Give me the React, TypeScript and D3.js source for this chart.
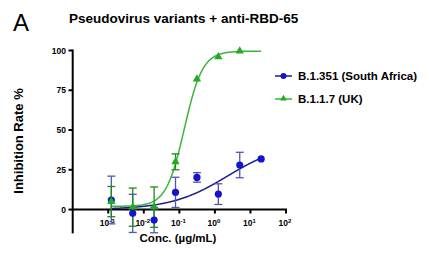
import React from "react";
import * as d3 from "d3";

const conc = [0.00122, 0.00488, 0.0195, 0.078, 0.3125, 1.25, 5, 20];
const b1351Mean = [6, -2.4, -6.6, 10.8, 20.2, 9.7, 28, 31.8];
const b1351Err = [15, 12, 8, 9.5, 3, 6.5, 8, 0];
const b117Conc = [0.00122, 0.00488, 0.0195, 0.078, 0.3125, 1.25, 5];
const b117Mean = [5, 1.5, 1.5, 30, 82, 96, 99.7];
const b117Err = [9.5, 12, 12.7, 5, 0, 0, 0];
const b1351Fit = { bottom: 0, top: 42, logEC50: 0.35, hill: 0.55 };
const b117Fit = { bottom: 2, top: 99.6, logEC50: -0.86, hill: 1.7 };
const yTicks = [0, 25, 50, 75, 100];
const xTickExps = [-3, -2, -1, 0, 1, 2];
const seriesNames = ["B.1.351 (South Africa)", "B.1.1.7 (UK)"];

const BLUE = "#1414cc";
const BLUE_LINE = "#1c1c8c";
const BLUE_ERR = "#5454b0";
const GREEN = "#22aa22";
const GREEN_LINE = "#3cb43c";
const GREEN_ERR = "#1c8c1c";

const fourPL = (p: any, lx: number) =>
  p.bottom + (p.top - p.bottom) / (1 + Math.pow(10, (p.logEC50 - lx) * p.hill));

export default function App() {
  const W = 429, H = 259;
  const x = d3.scaleLog().domain([1e-4, 1e2]).range([72.7, 286]);
  const y = d3.scaleLinear().domain([-15, 100]).range([233.4, 50.5]);
  const font = "Liberation Sans, Arial, sans-serif";

  const curve = (p: any, c0: number, c1: number) => {
    const pts: [number, number][] = d3.range(0, 201).map((i) => {
      const lx = Math.log10(c0) + (Math.log10(c1) - Math.log10(c0)) * (i / 200);
      return [x(Math.pow(10, lx)), y(fourPL(p, lx))];
    });
    return d3.line()(pts) as string;
  };

  const tri = d3.symbol().type(d3.symbolTriangle).size(30)() as string;

  const errBar = (cx: number, m: number, e: number, color: string, key: string) =>
    e > 0 ? (
      <g key={key} stroke={color} strokeWidth={1.3}>
        <line x1={cx} x2={cx} y1={y(m + e)} y2={y(m - e)} />
        <line x1={cx - 4} x2={cx + 4} y1={y(m + e)} y2={y(m + e)} />
        <line x1={cx - 4} x2={cx + 4} y1={y(m - e)} y2={y(m - e)} />
      </g>
    ) : null;

  return (
    <svg width={W} height={H} style={{ position: "absolute", left: 0, top: 0 }} fontFamily={font}>
      <rect width={W} height={H} fill="#fff" />
      <text x={13} y={31} fontSize={24}>A</text>
      <text x={69} y={22.5} fontSize={13.5} fontWeight="bold">Pseudovirus variants + anti-RBD-65</text>

      {/* y axis */}
      <line x1={72.7} x2={72.7} y1={y(100) - 1} y2={y(-15)} stroke="#000" strokeWidth={2} />
      {yTicks.map((t) => (
        <g key={t}>
          <line x1={68.5} x2={72.7} y1={y(t)} y2={y(t)} stroke="#000" strokeWidth={2} />
          <text x={66} y={y(t) + 3} fontSize={8.5} fontWeight="bold" textAnchor="end">{t}</text>
        </g>
      ))}
      <text transform={`translate(23,${141}) rotate(-90)`} fontSize={13} fontWeight="bold" textAnchor="middle">
        Inhibition Rate %
      </text>

      {/* x axis at y=0 */}
      <line x1={72.7} x2={x(100) + 1} y1={y(0)} y2={y(0)} stroke="#000" strokeWidth={2} />
      {xTickExps.map((e) => (
        <g key={e}>
          <line x1={x(Math.pow(10, e))} x2={x(Math.pow(10, e))} y1={y(0)} y2={y(0) + 4} stroke="#000" strokeWidth={2} />
          <text x={x(Math.pow(10, e)) - 1} y={226} fontSize={8.5} fontWeight="bold" textAnchor="middle">
            10<tspan dy={-3.5} fontSize={6}>{e}</tspan>
          </text>
        </g>
      ))}
      <text x={178} y={241.5} fontSize={11.5} fontWeight="bold" textAnchor="middle">Conc. (µg/mL)</text>

      {/* fits */}
      <path d={curve(b1351Fit, conc[0], conc[conc.length - 1])} fill="none" stroke={BLUE_LINE} strokeWidth={1.5} />
      <path d={curve(b117Fit, conc[0], conc[conc.length - 1])} fill="none" stroke={GREEN_LINE} strokeWidth={1.5} />

      {/* error bars */}
      {conc.map((c, i) => errBar(x(c), b1351Mean[i], b1351Err[i], BLUE_ERR, "be" + i))}
      {b117Conc.map((c, i) => errBar(x(c), b117Mean[i], b117Err[i], GREEN_ERR, "ge" + i))}

      {/* markers */}
      {conc.map((c, i) => (
        <circle key={"b" + i} cx={x(c)} cy={y(b1351Mean[i])} r={3.6} fill={BLUE} />
      ))}
      {b117Conc.map((c, i) => (
        <path key={"g" + i} d={tri} transform={`translate(${x(c)},${y(b117Mean[i])})`} fill={GREEN} />
      ))}

      {/* legend */}
      <g>
        <line x1={275} x2={292} y1={76} y2={76} stroke={BLUE_LINE} strokeWidth={1.5} />
        <circle cx={283.5} cy={76} r={3} fill={BLUE} />
        <text x={298} y={80} fontSize={11.5} fontWeight="bold">{seriesNames[0]}</text>
        <line x1={275} x2={292} y1={99} y2={99} stroke={GREEN_LINE} strokeWidth={1.5} />
        <path d={tri} transform="translate(283.5,98.5) scale(0.8)" fill={GREEN} />
        <text x={298} y={103} fontSize={11.5} fontWeight="bold">{seriesNames[1]}</text>
      </g>
    </svg>
  );
}
